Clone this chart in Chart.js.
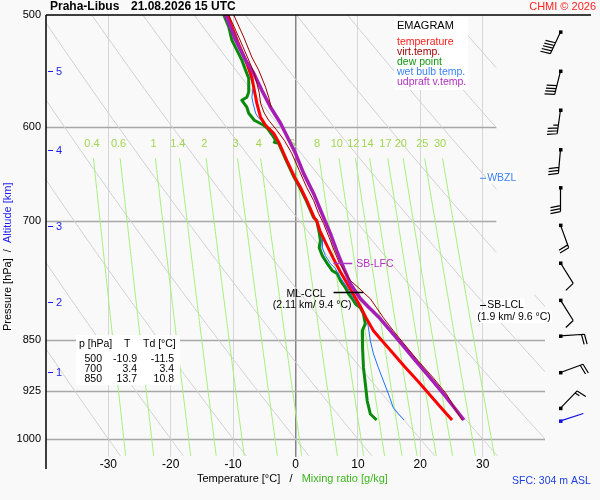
<!DOCTYPE html>
<html>
<head>
<meta charset="utf-8">
<script src="https://cdn.jsdelivr.net/npm/chart.js@4.4.1/dist/chart.umd.min.js"></script>
<style>
  html, body { margin: 0; padding: 0; background: #f9f9f9; }
  canvas { display: block; }
</style>
</head>
<body>
<canvas id="chart" width="600" height="500"></canvas>
<script>
// axis ticks
const pressureTicks = [500, 600, 700, 850, 925, 1000];
const tempTicks = [-30, -20, -10, 0, 10, 20, 30];
const altKm = [5, 4, 3, 2, 1];
const altP = [548, 624, 706, 799, 897];
const mixRatios = [0.4, 0.6, 1, 1.4, 2, 3, 4, 6, 8, 10, 12, 14, 17, 20, 25, 30];
const dryThetas = [-30, -20, -10, 0, 10, 20, 30, 40, 50, 60, 70, 80, 90, 100, 110];

// profiles (hPa / degC)
const tempP = [500, 518.4, 538.3, 553.5, 565.4, 577.6, 591.0, 598.8, 606.7, 616.7, 634.2, 651.0, 662.9, 677.1, 696.3, 700, 711.3, 726.6, 743.5, 759.5, 775.8, 793.9, 807.0, 820.3, 838.0, 850, 868.8, 887.5, 909.6, 932.2, 955.4, 969.6];
const tempT = [-10.9, -9.6, -8.0, -7.0, -6.6, -6.2, -5.6, -4.8, -3.5, -2.6, -1.4, -0.2, 0.8, 1.8, 3.0, 3.4, 3.9, 4.9, 6.0, 7.1, 8.3, 9.6, 10.5, 11.3, 12.5, 13.7, 15.6, 17.4, 19.6, 21.7, 23.8, 25.1];

const dewP = [500, 509.9, 520.9, 529.5, 538.3, 547.2, 554.4, 567.3, 571.9, 574.8, 581.4, 587.1, 593.9, 598.8, 601.8, 608.7, 613.7, 615.7, 616.7, 634.2, 651.0, 662.9, 677.1, 696.3, 700, 713.6, 723.0, 731.4, 741.0, 750.8, 759.5, 763.2, 772.0, 780.9, 788.7, 795.2, 801.7, 807.0, 815.0, 828.4, 833.9, 838.0, 850, 861.7, 890.4, 914.1, 939.9, 960.1, 969.6];
const dewT = [-11.5, -10.7, -10.2, -9.4, -8.6, -8.0, -7.5, -7.5, -7.8, -8.6, -7.8, -7.5, -6.6, -5.1, -4.5, -3.7, -3.2, -3.4, -2.7, -1.5, -0.3, 0.7, 1.7, 2.9, 3.4, 3.8, 4.0, 3.8, 4.3, 5.1, 5.9, 6.7, 7.2, 8.0, 8.5, 9.1, 9.6, 10.4, 10.9, 11.2, 10.9, 10.7, 10.8, 10.7, 10.9, 11.2, 11.5, 12.0, 13.0];

const wetP = [500, 515.0, 535.6, 547.2, 553.5, 562.6, 571.9, 577.6, 587.1, 591.0, 596.8, 606.7, 616.7, 634.2, 651.0, 662.9, 677.1, 696.3, 700, 711.3, 719.5, 731.4, 741.0, 750.8, 757.0, 768.2, 780.9, 788.7, 801.7, 807.0, 811.0, 824.4, 833.9, 851.8, 870.2, 890.4, 909.6, 929.2, 950.7, 960.1, 969.6];
const wetT = [-11.2, -9.6, -8.3, -7.5, -7.2, -6.8, -7.0, -6.8, -6.4, -6.0, -5.1, -3.8, -2.6, -1.4, -0.2, 0.8, 1.8, 3.0, 3.4, 3.8, 4.3, 4.3, 4.8, 5.6, 6.4, 7.2, 8.3, 8.9, 9.9, 10.4, 10.9, 11.5, 11.7, 12.0, 12.5, 13.3, 14.1, 14.9, 15.7, 16.5, 17.4];

const updP = [500, 520.9, 538.3, 549.9, 565.4, 581.4, 596.8, 616.7, 626.9, 647.8, 669.4, 696.3, 714.8, 735.0, 755.8, 775.8, 795.2, 804.3, 821.7, 851.8, 877.4, 905.1, 932.2, 969.6];
const updT = [-11.2, -9.6, -8.0, -6.7, -5.4, -4.0, -2.4, -0.8, 0.0, 1.3, 2.9, 4.5, 5.6, 6.6, 7.7, 8.8, 10.4, 11.5, 13.6, 16.6, 19.0, 21.6, 24.0, 27.0];

const virtP = [500, 518.4, 538.3, 549.0, 559.0, 568.2, 577.6, 587.1, 593.9, 603.7, 613.7, 626.9, 644.6, 662.9, 677.1, 691.7, 703.2, 719.5, 735.0, 749.6, 759.5, 772.0, 780.9, 788.7, 795.2, 807.0, 820.3, 838.0, 851.8, 877.4, 905.1, 929.2, 955.4, 969.6];
const virtT = [-10.7, -9.1, -7.5, -6.7, -6.2, -5.8, -5.6, -5.0, -4.3, -3.0, -1.8, -0.6, 0.6, 1.8, 2.9, 3.7, 4.5, 5.4, 6.2, 7.0, 7.8, 8.8, 10.1, 11.1, 12.0, 13.0, 14.1, 15.7, 17.0, 19.4, 22.1, 24.2, 25.8, 26.7];

const virt2P = [500, 518.4, 535.6, 547.2, 562.6, 571.9, 581.4];
const virt2T = [-9.9, -8.3, -7.0, -5.9, -4.8, -4.3, -3.9];

// wind barbs
const windP = [514, 548, 584, 623, 663, 705, 750, 797, 845, 897, 951];
const windDir = [205, 194, 188, 185, 180, 160, 148, 148, 86, 70, 44];
const windSpd = [50, 40, 35, 30, 30, 20, 10, 10, 20, 20, 15];
const sfcWindP = 971;
const sfcWindDir = 72;

// table and levels
const tableP = [500, 700, 850];
const tableT = [-10.9, 3.4, 13.7];
const tableTd = [-11.5, 3.4, 10.8];
const wbzlP = 653;
const sbLclP = 804;
const sbLfcP = 750;
const sbLfcT = [6.1, 9.1];
const mlCclP = 786;
const mlCclT = [6.1, 10.9];
const levelMarkT = 29.6;

const FONT = '"Liberation Sans", Arial, Helvetica, sans-serif';
const gridCutT = 32.2;
const gridCutP = 790;
const mixTopP = 632;
const mixLabelP = 617;
const bottomP = 1030;

function satMixT(w, p) {
  const e = w * p / (622 + w);
  const l = Math.log(e / 6.112);
  return 243.5 * l / (17.67 - l);
}
function dryT(theta, p) {
  return (theta + 273.15) * Math.pow(p / 1000, 0.2857) - 273.15;
}
function pts(P, T) { return P.map((p, i) => ({ x: T[i], y: p })); }

function curve(ctx, xs, ys, fn, p0, p1) {
  ctx.beginPath();
  for (let p = p0, first = true; p <= p1 + 0.01; p += 4, first = false) {
    const x = xs.getPixelForValue(fn(p)), y = ys.getPixelForValue(p);
    if (first) ctx.moveTo(x, y); else ctx.lineTo(x, y);
  }
  ctx.stroke();
}

const backdrop = {
  id: 'backdrop',
  beforeDatasetsDraw(chart) {
    const { ctx, chartArea: ca, scales: { x: xs, y: ys } } = chart;
    const xc = xs.getPixelForValue(gridCutT), yc = ys.getPixelForValue(gridCutP);
    ctx.save();
    ctx.beginPath();
    ctx.rect(ca.left, ca.top, xc - ca.left, yc - ca.top);
    ctx.rect(ca.left, yc, ca.right - ca.left, ca.bottom - yc);
    ctx.clip();

    ctx.strokeStyle = '#a8a8a8';
    ctx.lineWidth = 1.5;
    pressureTicks.slice(1).forEach(p => {
      const y = Math.round(ys.getPixelForValue(p)) + 0.5;
      ctx.beginPath(); ctx.moveTo(ca.left, y); ctx.lineTo(ca.right, y); ctx.stroke();
    });

    ctx.strokeStyle = '#d0d0d0';
    ctx.lineWidth = 1;
    dryThetas.forEach(th => curve(ctx, xs, ys, p => dryT(th, p), 500, bottomP));

    ctx.strokeStyle = '#a4f078';
    mixRatios.forEach(w => curve(ctx, xs, ys, p => satMixT(w, p), mixTopP, bottomP));
    ctx.restore();

    ctx.save();
    ctx.font = '11px ' + FONT;
    ctx.fillStyle = '#a2d651';
    ctx.textAlign = 'center';
    ctx.textBaseline = 'middle';
    const ly = ys.getPixelForValue(mixLabelP);
    mixRatios.forEach(w => ctx.fillText(String(w), xs.getPixelForValue(satMixT(w, mixLabelP)), ly));
    ctx.restore();
  }
};

function barb(ctx, x, y, dir, spd, color, feathers) {
  const a = dir * Math.PI / 180;
  const ux = Math.sin(a), uy = -Math.cos(a);
  const tx = x + ux * 24, ty = y + uy * 24;
  const px = -uy, py = ux;
  ctx.strokeStyle = color;
  ctx.fillStyle = color;
  ctx.lineWidth = 1.2;
  ctx.fillRect(x - 1.5, y - 1.5, 3.5, 3.5);
  ctx.beginPath();
  ctx.moveTo(x, y);
  ctx.lineTo(tx, ty);
  if (feathers) {
    let d = 0;
    for (let i = 0; i < Math.floor(spd / 10); i++, d += 3) {
      const bx = tx - ux * d, by = ty - uy * d;
      ctx.moveTo(bx, by);
      ctx.lineTo(bx + px * 10 + ux * 2, by + py * 10 + uy * 2);
    }
    if (spd % 10 >= 5) {
      const bx = tx - ux * d, by = ty - uy * d;
      ctx.moveTo(bx, by);
      ctx.lineTo(bx + px * 5 + ux * 1, by + py * 5 + uy * 1);
    }
  }
  ctx.stroke();
}

function boxText(ctx, txt, x, y, color) {
  const w = ctx.measureText(txt).width;
  ctx.fillStyle = '#ffffff';
  ctx.fillRect(x - 1, y - 7, w + 2, 13);
  ctx.fillStyle = color;
  ctx.fillText(txt, x, y);
}

const overlay = {
  id: 'overlay',
  afterDraw(chart) {
    const { ctx, chartArea: ca, scales: { x: xs, y: ys } } = chart;
    ctx.save();

    // frame
    ctx.strokeStyle = '#000';
    ctx.lineWidth = 1.5;
    ctx.beginPath();
    ctx.moveTo(ca.left, ca.top); ctx.lineTo(591, ca.top);
    ctx.moveTo(ca.left, ca.top); ctx.lineTo(ca.left, ca.bottom + 12);
    ctx.stroke();

    ctx.textBaseline = 'middle';

    // title
    ctx.font = 'bold 12px ' + FONT;
    ctx.fillStyle = '#000';
    ctx.fillText('Praha-Libus', 50, 7);
    ctx.fillText('21.08.2026 15 UTC', 131, 7);
    ctx.font = '11px ' + FONT;
    ctx.fillStyle = '#ff2020';
    ctx.textAlign = 'right';
    ctx.fillText('CHMI © 2026', 596, 7);
    ctx.textAlign = 'left';

    // altitude ticks
    ctx.fillStyle = '#1c1cf0';
    ctx.strokeStyle = '#1c1cf0';
    ctx.lineWidth = 1;
    altKm.forEach((km, i) => {
      const y = Math.round(ys.getPixelForValue(altP[i])) + 0.5;
      ctx.beginPath(); ctx.moveTo(ca.left + 2, y); ctx.lineTo(ca.left + 7, y); ctx.stroke();
      ctx.fillText(String(km), ca.left + 10, y);
    });

    // legend box
    ctx.fillStyle = '#ffffff';
    ctx.fillRect(394, 17, 74, 73);
    ctx.fillStyle = '#000';
    ctx.font = '11px ' + FONT;
    ctx.fillText('EMAGRAM', 397, 26);
    ctx.font = '10.5px ' + FONT;
    [['temperature', '#ff1a1a'], ['virt.temp.', '#a00000'], ['dew point', '#129612'],
     ['wet bulb temp.', '#3c82f5'], ['udpraft v.temp.', '#b030c0']].forEach(([t, c], i) => {
      ctx.fillStyle = c;
      ctx.fillText(t, 397, 42 + i * 10);
    });

    // data table
    ctx.fillStyle = '#ffffff';
    ctx.fillRect(76, 335, 104, 50);
    ctx.fillStyle = '#000';
    ctx.font = '10.5px ' + FONT;
    ctx.fillText('p [hPa]', 79, 344);
    ctx.fillText('T', 124, 344);
    ctx.fillText('Td [°C]', 143, 344);
    ctx.textAlign = 'right';
    tableP.forEach((p, i) => {
      const y = 359 + i * 10;
      ctx.fillText(String(p), 102, y);
      ctx.fillText(tableT[i].toFixed(1), 137, y);
      ctx.fillText(tableTd[i].toFixed(1), 174, y);
    });
    ctx.textAlign = 'left';

    // level annotations
    const xm = xs.getPixelForValue(levelMarkT);
    let y = ys.getPixelForValue(wbzlP);
    boxText(ctx, 'WBZL', xm + 7, y, '#3c82f5');
    ctx.strokeStyle = '#3c82f5';
    ctx.beginPath(); ctx.moveTo(xm, y); ctx.lineTo(xm + 6, y); ctx.stroke();

    y = ys.getPixelForValue(sbLclP);
    boxText(ctx, 'SB-LCL', xm + 7, y, '#000');
    boxText(ctx, '(1.9 km/ 9.6 °C)', xm - 3, y + 11.5, '#000');
    ctx.strokeStyle = '#000';
    ctx.beginPath(); ctx.moveTo(xm, y); ctx.lineTo(xm + 6, y); ctx.stroke();

    y = Math.round(ys.getPixelForValue(sbLfcP)) + 0.5;
    const lf0 = xs.getPixelForValue(sbLfcT[0]), lf1 = xs.getPixelForValue(sbLfcT[1]);
    ctx.strokeStyle = '#b030c0';
    ctx.lineWidth = 1.5;
    ctx.beginPath(); ctx.moveTo(lf0, y); ctx.lineTo(lf1, y); ctx.stroke();
    ctx.fillStyle = '#b030c0';
    ctx.fillText('SB-LFC', lf1 + 4, y + 1);

    y = Math.round(ys.getPixelForValue(mlCclP)) + 0.5;
    const cc0 = xs.getPixelForValue(mlCclT[0]), cc1 = xs.getPixelForValue(mlCclT[1]);
    ctx.strokeStyle = '#000';
    ctx.beginPath(); ctx.moveTo(cc0, y); ctx.lineTo(cc1, y); ctx.stroke();
    ctx.fillStyle = '#000';
    ctx.textAlign = 'right';
    ctx.fillText('ML-CCL', cc0 - 8, y + 1.5);
    ctx.fillText('(2.11 km/ 9.4 °C)', cc0 + 18, y + 12.5);
    ctx.textAlign = 'left';

    // wind barbs
    const bx = ca.right + 15.5;
    windP.forEach((p, i) => barb(ctx, bx, ys.getPixelForValue(p), windDir[i], windSpd[i], '#000', true));
    barb(ctx, bx, ys.getPixelForValue(sfcWindP), sfcWindDir, 0, '#1010e0', false);

    // axis titles
    ctx.font = '11px ' + FONT;
    ctx.fillStyle = '#000';
    const t1 = 'Temperature [°C]   /   ';
    ctx.fillText(t1, 197, 479);
    ctx.fillStyle = '#3cb81c';
    ctx.fillText('Mixing ratio [g/kg]', 197 + ctx.measureText(t1).width, 479);

    ctx.fillStyle = '#2040e0';
    ctx.font = '10.5px ' + FONT;
    ctx.fillText('SFC: 304 m ASL', 512, 481);

    ctx.translate(8, 331);
    ctx.rotate(-Math.PI / 2);
    ctx.font = '11px ' + FONT;
    ctx.fillStyle = '#000';
    const t2 = 'Pressure [hPa]  /  ';
    ctx.fillText(t2, 0, 0);
    ctx.fillStyle = '#1c1cf0';
    ctx.fillText('Altitude [km]', ctx.measureText(t2).width, 0);
    ctx.restore();
  }
};

function series(P, T, color, width) {
  return {
    data: pts(P, T), showLine: true, borderColor: color, backgroundColor: color,
    borderWidth: width, pointRadius: 0, tension: 0, borderJoinStyle: 'round'
  };
}

new Chart(document.getElementById('chart'), {
  type: 'scatter',
  data: {
    datasets: [
      series(virtP, virtT, '#9c0000', 1),
      series(virt2P, virt2T, '#9c0000', 1),
      series(updP, updT, '#a51fb5', 3.5),
      series(tempP, tempT, '#ff0000', 3),
      series(wetP, wetT, '#1f6fff', 1),
      series(dewP, dewT, '#0a8a0a', 3)
    ]
  },
  options: {
    responsive: false,
    animation: false,
    events: [],
    layout: { padding: { top: 15, right: 55, left: 0, bottom: 0 } },
    plugins: { legend: { display: false }, tooltip: { enabled: false } },
    scales: {
      x: {
        type: 'linear', min: -40, max: 40,
        afterBuildTicks: s => { s.ticks = tempTicks.map(v => ({ value: v })); },
        afterFit: s => { s.height = 43; },
        grid: {
          color: c => (c.tick && c.tick.value === 0 ? '#858585' : '#d6d6d6'),
          lineWidth: c => (c.tick && c.tick.value === 0 ? 1.5 : 1),
          drawTicks: false
        },
        border: { display: false },
        ticks: { color: '#000', font: { family: FONT, size: 12 }, padding: 0, autoSkip: false, maxRotation: 0 }
      },
      y: {
        type: 'logarithmic', reverse: true, min: 500, max: bottomP,
        afterBuildTicks: s => { s.ticks = pressureTicks.map(v => ({ value: v })); },
        afterFit: s => { s.width = 46; },
        grid: { display: false, drawTicks: false },
        border: { display: false },
        ticks: { color: '#000', font: { family: FONT, size: 11 }, padding: 5, autoSkip: false, callback: v => String(v) }
      }
    }
  },
  plugins: [backdrop, overlay]
});
</script>
</body>
</html>
